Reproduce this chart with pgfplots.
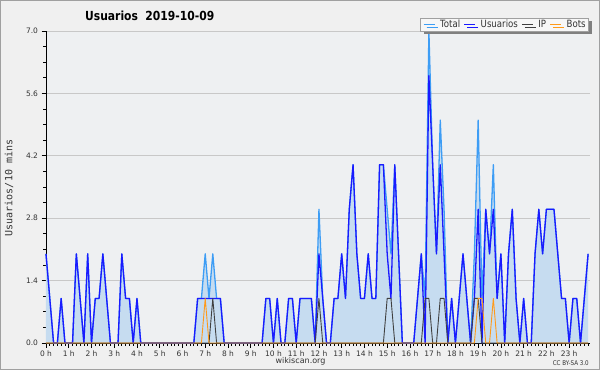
\documentclass[border=0pt]{standalone}
\usepackage{pgfplots}
\pgfplotsset{compat=1.18}
\usepackage{pgfplotstable}
\usepackage{fontspec}
\setmainfont{DejaVu Sans}
\newfontfamily\condfont{DejaVu Sans}[FakeStretch=0.86]
\newfontfamily\monofont{DejaVu Sans Mono}
\usetikzlibrary{shadows}
\definecolor{bgout}{HTML}{F0F0F0}
\definecolor{bgin}{HTML}{EEF0F2}
\definecolor{framec}{HTML}{A0A0A0}
\definecolor{totalc}{HTML}{3D9DF5}
\definecolor{userc}{HTML}{1A1AFF}
\definecolor{ipc}{HTML}{404040}
\definecolor{botc}{HTML}{FF9A1A}
\definecolor{fillc}{HTML}{C6DCF0}
\definecolor{gridc}{HTML}{C8C8C8}
\definecolor{txtc}{HTML}{333333}

\pgfplotstableread{
i U T P B
0 2 2 0 0
1 1 1 0 0
2 0 0 0 0
3 0 0 0 0
4 1 1 0 0
5 0 0 0 0
6 0 0 0 0
7 0 0 0 0
8 2 2 0 0
9 1 1 0 0
10 0 0 0 0
11 2 2 0 0
12 0 0 0 0
13 1 1 0 0
14 1 1 0 0
15 2 2 0 0
16 1 1 0 0
17 0 0 0 0
18 0 0 0 0
19 0 0 0 0
20 2 2 0 0
21 1 1 0 0
22 1 1 0 0
23 0 0 0 0
24 1 1 0 0
25 0 0 0 0
26 0 0 0 0
27 0 0 0 0
28 0 0 0 0
29 0 0 0 0
30 0 0 0 0
31 0 0 0 0
32 0 0 0 0
33 0 0 0 0
34 0 0 0 0
35 0 0 0 0
36 0 0 0 0
37 0 0 0 0
38 0 0 0 0
39 0 0 0 0
40 1 1 0 0
41 1 1 0 0
42 1 2 0 1
43 1 1 0 0
44 1 2 1 0
45 1 1 0 0
46 1 1 0 0
47 0 0 0 0
48 0 0 0 0
49 0 0 0 0
50 0 0 0 0
51 0 0 0 0
52 0 0 0 0
53 0 0 0 0
54 0 0 0 0
55 0 0 0 0
56 0 0 0 0
57 0 0 0 0
58 1 1 0 0
59 1 1 0 0
60 0 0 0 0
61 1 1 0 0
62 0 0 0 0
63 0 0 0 0
64 1 1 0 0
65 1 1 0 0
66 0 0 0 0
67 1 1 0 0
68 1 1 0 0
69 1 1 0 0
70 1 1 0 0
71 0 0 0 0
72 2 3 1 0
73 1 1 0 0
74 0 0 0 0
75 0 0 0 0
76 1 1 0 0
77 1 1 0 0
78 2 2 0 0
79 1 1 0 0
80 3 3 0 0
81 4 4 0 0
82 2 2 0 0
83 1 1 0 0
84 1 1 0 0
85 2 2 0 0
86 1 1 0 0
87 1 1 0 0
88 4 4 0 0
89 4 4 0 0
90 2 3 1 0
91 1 2 1 0
92 4 4 0 0
93 2 2 0 0
94 0 0 0 0
95 0 0 0 0
96 0 0 0 0
97 0 0 0 0
98 1 1 0 0
99 2 2 0 0
100 0 1 1 0
101 6 7 1 0
102 4 4 0 0
103 2 2 0 0
104 4 5 1 0
105 2 3 1 0
106 0 0 0 0
107 1 1 0 0
108 0 0 0 0
109 1 1 0 0
110 2 2 0 0
111 1 1 0 0
112 0 0 0 0
113 1 2 1 0
114 3 5 1 1
115 0 1 0 1
116 3 3 0 0
117 2 2 0 0
118 3 4 0 1
119 1 1 0 0
120 2 2 0 0
121 0 0 0 0
122 2 2 0 0
123 3 3 0 0
124 1 1 0 0
125 0 0 0 0
126 1 1 0 0
127 0 0 0 0
128 0 0 0 0
129 2 2 0 0
130 3 3 0 0
131 2 2 0 0
132 3 3 0 0
133 3 3 0 0
134 3 3 0 0
135 2 2 0 0
136 1 1 0 0
137 1 1 0 0
138 0 0 0 0
139 1 1 0 0
140 1 1 0 0
141 0 0 0 0
142 1 1 0 0
143 2 2 0 0
}\data

\begin{document}
\begin{tikzpicture}[x=1pt,y=1pt]
\fill[bgout] (0,0) rectangle (600,370);
\draw[framec, line width=1pt] (0.5,0.5) rectangle (599.5,369.5);
\path[use as bounding box] (0,0) rectangle (600,370);
\begin{axis}[
  at={(46pt,27pt)}, anchor=south west, scale only axis,
  width=544pt, height=312pt,
  xmin=0, xmax=143.5, ymin=0, ymax=7,
  clip=false,
  axis background/.style={fill=bgin},
  axis x line*=bottom, axis y line*=left,
  axis line style={black, line width=0.9pt},
  tick align=outside,
  major tick length=4.5pt, minor tick length=2.5pt,
  tick style={black, line width=0.8pt},
  xtick={0,6,...,138},
  xticklabels={0 h,1 h,2 h,3 h,4 h,5 h,6 h,7 h,8 h,9 h,10 h,11 h,12 h,13 h,14 h,15 h,16 h,17 h,18 h,19 h,20 h,21 h,22 h,23 h},
  minor xtick={0,1,...,143},
  ytick={0,1.4,2.8,4.2,5.6,7},
  minor ytick={0.35,0.7,1.05,1.75,2.1,2.45,3.15,3.5,3.85,4.55,4.9,5.25,5.95,6.3,6.65},
  yticklabel style={/pgf/number format/.cd, fixed, fixed zerofill, precision=1, assume math mode=true},
  ticklabel style={font=\fontsize{7.5}{9}\selectfont, text=txtc},
  ymajorgrids,
  grid style={gridc, line width=0.8pt},
  legend style={at={(axis description cs:0.998,1)}, anchor=north east, yshift=13.5pt,
    draw=framec, fill=white!97!black, line width=0.6pt,
    font=\condfont\fontsize{10}{11}\selectfont, text=txtc,
    inner xsep=2.5pt, inner ysep=1.8pt,
    nodes={inner sep=0.5pt},
    drop shadow={shadow xshift=3pt, shadow yshift=-3pt, fill=black!50, opacity=1},
    /tikz/every odd column/.append style={column sep=4.5pt},
    /tikz/every even column/.append style={column sep=3pt}},
  legend columns=4,
  legend image code/.code={\draw[#1, line width=1pt] (0pt,0pt) -- (11pt,0pt);},
]
\addplot[draw=none, fill=fillc, forget plot] table[x=i,y=T]{\data} \closedcycle;
\addplot[totalc, line width=1.3pt, line join=round] table[x=i,y=T]{\data};
\addplot[userc, line width=1.3pt, line join=round] table[x=i,y=U]{\data};
\addplot[ipc, line width=0.9pt, line join=round] table[x=i,y=P]{\data};
\addplot[botc, line width=0.9pt, line join=round] table[x=i,y=B]{\data};
\legend{Total,Usuarios,IP,Bots}
\end{axis}
\node[anchor=base west, inner sep=0pt] at (85,349.3) {\condfont\bfseries\fontsize{12.5}{14}\selectfont Usuarios\ \ 2019-10-09};
\node[rotate=90, anchor=base, inner sep=0pt] at (12.3,182) {\monofont\fontsize{10}{12}\selectfont\color{txtc}Usuarios/10 mins};
\node[anchor=base, inner sep=0pt] at (300.5,6.7) {\fontsize{8}{9}\selectfont\color{txtc}wikiscan.org};
\node[anchor=base east, inner sep=0pt] at (589,5) {\condfont\fontsize{6.5}{7}\selectfont\color{txtc}CC BY-SA 3.0};
\end{tikzpicture}
\end{document}
